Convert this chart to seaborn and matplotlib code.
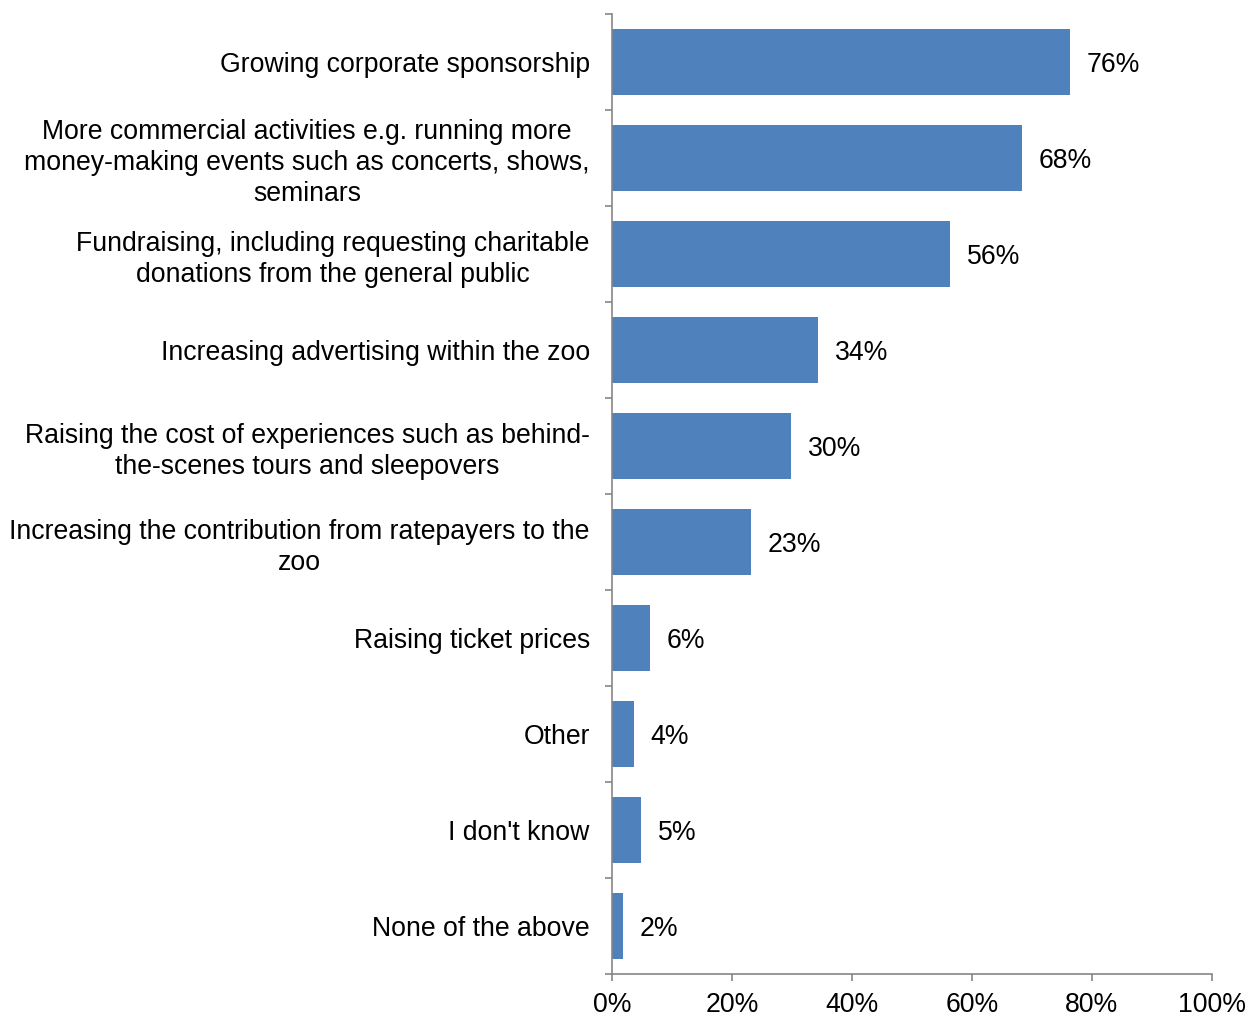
import matplotlib
matplotlib.use("Agg")
import matplotlib.pyplot as plt
import seaborn as sns
import pandas as pd
from matplotlib.ticker import FixedLocator, PercentFormatter

categories = [
    "Growing corporate sponsorship",
    "More commercial activities e.g. running more\nmoney-making events such as concerts, shows,\nseminars",
    "Fundraising, including requesting charitable\ndonations from the general public",
    "Increasing advertising within the zoo",
    "Raising the cost of experiences such as behind-\nthe-scenes tours and sleepovers",
    "Increasing the contribution from ratepayers to the\nzoo",
    "Raising ticket prices",
    "Other",
    "I don't know",
    "None of the above",
]
values = [76.3, 68.3, 56.4, 34.4, 29.8, 23.1, 6.4, 3.6, 4.8, 1.8]
x_ticks = [0, 20, 40, 60, 80, 100]

sns.set_theme(style="white")
plt.rcParams["font.family"] = ["Liberation Sans", "DejaVu Sans"]

df = pd.DataFrame({"option": categories, "share": values})

fig = plt.figure(figsize=(12.48, 10.17), dpi=100)
ax = fig.add_axes([612 / 1248, 1 - 974 / 1017, 600 / 1248, 960 / 1017])

sns.barplot(data=df, y="option", x="share", orient="h", color="#4F81BD",
            saturation=1, width=0.68, linewidth=0, ax=ax)

ax.set_xlim(0, 100)
ax.set_ylim(len(categories) - 0.5, -0.5)
ax.set_xlabel("")
ax.set_ylabel("")

for side in ("top", "right"):
    ax.spines[side].set_visible(False)
for side in ("left", "bottom"):
    ax.spines[side].set_color("#868686")
    ax.spines[side].set_linewidth(1.2)

fs = 19.2
ax.xaxis.set_major_locator(FixedLocator(x_ticks))
ax.xaxis.set_major_formatter(PercentFormatter(decimals=0))
ax.tick_params(axis="x", which="major", bottom=True, length=5, width=1.2,
               color="#868686", pad=8, labelsize=fs, labelcolor="black")

ax.tick_params(axis="y", which="major", left=False, length=0, pad=16,
               labelsize=fs, labelcolor="black")
ax.yaxis.set_minor_locator(FixedLocator([i - 0.5 for i in range(len(categories) + 1)]))
ax.tick_params(axis="y", which="minor", left=True, length=5, width=1.2,
               color="#868686")
for lbl in ax.get_yticklabels():
    lbl.set_multialignment("center")
    lbl.set_linespacing(1.25)

texts = ax.bar_label(ax.containers[0], labels=[f"{v:.0f}%" for v in values],
                     padding=12, fontsize=fs, color="black")
for t in texts:
    t.set_va("center_baseline")

fig.savefig("out.png", dpi=100, facecolor="white")
